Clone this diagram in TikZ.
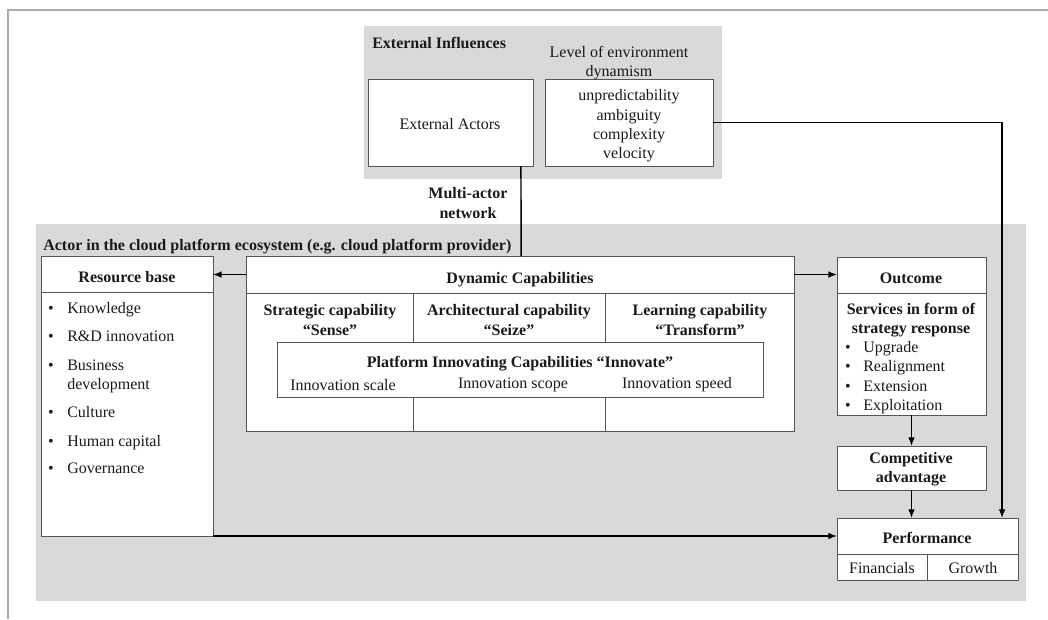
\documentclass[tikz,border=0pt]{standalone}
\usepackage{fontspec}
\setmainfont{Liberation Serif}
\usetikzlibrary{fit,calc,arrows.meta}
\definecolor{panel}{HTML}{D9D9D9}
\definecolor{boxline}{HTML}{555555}
\definecolor{frame}{HTML}{ABABAB}
\definecolor{ink}{HTML}{1A1A1A}
\newcommand\cellbox[5]{\node[cell, fit={(#2,#3) (#4,#5)}] (#1) {};}
\begin{document}
\begin{tikzpicture}[x=0.75pt,y=-0.75pt,
  cell/.style={draw=boxline, fill=white, line width=0.75pt, inner sep=0pt, outer sep=0pt},
  zone/.style={fill=panel, draw=none, inner sep=0pt, outer sep=0pt},
  txt/.style={text=ink, font=\fontsize{12}{14.5}\selectfont, inner sep=0pt, align=center},
  btxt/.style={txt, font=\fontsize{12}{14.5}\selectfont\bfseries},
  item/.style={txt, anchor=west, text height=8.5pt, text depth=2.5pt},
  dot/.style={txt, text height=8.5pt, text depth=2.5pt},
  flow/.style={draw=black, line width=1.1pt, -{Latex[length=6.5pt,width=5pt]}},
  link/.style={draw=black, line width=1.1pt}]
\useasboundingbox (0,0) rectangle (1048,619);
% page frame
\draw[frame, line width=1.5pt] (1048,10) -- (8,10) -- (8,619);

% shaded zones
\node[zone, fit={(364,26) (722,179)}] (extzone) {};
\node[zone, fit={(36,224) (1026,601)}] (actorzone) {};

% external influences
\node[btxt, anchor=west] (t-extinf) at (372,43) {External Influences};
\node[txt] (t-level) at (619,63) {Level of environment\\dynamism};
\cellbox{ext}{368}{79}{533}{166}
\node[txt] (t-ext) at (450,124) {External Actors};
\cellbox{env}{545}{79}{713}{166}
\node[txt] (t-env) at (629,126) {unpredictability\\ambiguity\\complexity\\velocity};
\node[btxt] (t-multi) at (468,203) {Multi-actor\\network};

% actor zone title
\node[btxt, anchor=west] (t-actor) at (43,247) {Actor in the cloud platform ecosystem (e.g. cloud platform provider)};

% resource base
\cellbox{res}{41}{256}{213}{536}
\cellbox{reshead}{41}{256}{213}{292}
\node[btxt] (t-res) at (127,277) {Resource base};
\foreach \n/\y/\t in {a/309/Knowledge, b/337/R\&D innovation, c/366/Business, e/413/Culture, f/442/Human capital, g/469/Governance}{
  \node[dot] (rb-\n) at (51,\y) {•};
  \node[item] (ri-\n) at (67,\y) {\t};
}
\node[item] (ri-d) at (67,385) {development};

% dynamic capabilities
\cellbox{dc}{246}{256}{794}{431}
\cellbox{dchead}{246}{256}{794}{293}
\node[btxt] (t-dc) at (520,280) {Dynamic Capabilities};
\cellbox{col1}{246}{293}{413}{431}
\cellbox{col2}{413}{293}{605}{431}
\cellbox{col3}{605}{293}{794}{431}
\node[btxt] (t-sense) at (330,320) {Strategic capability\\“Sense”};
\node[btxt] (t-seize) at (509,320) {Architectural capability\\“Seize”};
\node[btxt] (t-trans) at (700,320) {Learning capability\\“Transform”};
\cellbox{pic}{277}{342}{763}{397}
\node[btxt] (t-pic) at (520,364) {Platform Innovating Capabilities “Innovate”};
\node[txt] (t-scale) at (343,385) {Innovation scale};
\node[txt] (t-scope) at (513,385) {Innovation scope};
\node[txt] (t-speed) at (677,385) {Innovation speed};

% outcome
\cellbox{out}{837}{257}{986}{415}
\cellbox{outhead}{837}{257}{986}{293}
\node[btxt] (t-out) at (911,278) {Outcome};
\node[btxt] (t-serv) at (911,320) {Services in form of\\strategy response};
\foreach \n/\y/\t in {a/348/Upgrade, b/367/Realignment, c/387/Extension, d/406/Exploitation}{
  \node[dot] (ob-\n) at (848,\y) {•};
  \node[item] (oi-\n) at (863,\y) {\t};
}

% competitive advantage
\cellbox{comp}{837}{446}{986}{490}
\node[btxt] (t-comp) at (911,469) {Competitive\\advantage};

% performance
\cellbox{perf}{837}{518}{1018}{580}
\cellbox{fin}{837}{554}{927}{580}
\cellbox{grow}{927}{554}{1018}{580}
\node[btxt] (t-perf) at (927,538) {Performance};
\node[txt] (t-fin) at (882,568) {Financials};
\node[txt] (t-grow) at (973,568) {Growth};

% connectors
\draw[link] ($(ext.south west)!0.927!(ext.south east)$) -- ($(dchead.north west)!0.502!(dchead.north east)$);
\draw[flow] (env.east) -| ($(perf.north west)!0.912!(perf.north east)$);
\draw[flow] (dchead.west) -- (dchead.west -| res.east);
\draw[flow] (dchead.east) -- (dchead.east -| out.west);
\draw[flow] (out.south) -- (comp.north);
\draw[flow] (comp.south) -- (comp.south |- perf.north);
\draw[flow] (res.south east) -- (res.south east -| perf.west);
\end{tikzpicture}
\end{document}
